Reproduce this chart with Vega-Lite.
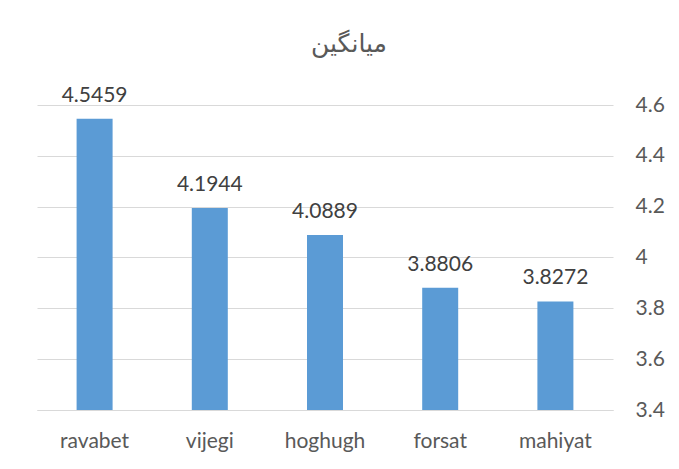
{
  "$schema": "https://vega.github.io/schema/vega-lite/v6.json",
  "autosize": "none",
  "width": 576,
  "height": 305,
  "padding": {"left": 37, "top": 105, "right": 66, "bottom": 59},
  "background": "white",
  "title": {
    "text": "میانگین",
    "fontSize": 25,
    "font": "DejaVu Sans",
    "fontWeight": "normal",
    "color": "#595959",
    "anchor": "middle",
    "dx": 24,
    "offset": 28
  },
  "data": {
    "values": [
      {"category": "ravabet", "value": 4.5459},
      {"category": "vijegi", "value": 4.1944},
      {"category": "hoghugh", "value": 4.0889},
      {"category": "forsat", "value": 3.8806},
      {"category": "mahiyat", "value": 3.8272}
    ]
  },
  "encoding": {
    "x": {
      "field": "category",
      "type": "nominal",
      "sort": null,
      "scale": {"paddingInner": 0.6875, "paddingOuter": 0.34375},
      "axis": {
        "title": null,
        "labelAngle": 0,
        "ticks": false,
        "domain": true,
        "domainColor": "#d9d9d9",
        "labelFont": "Lato",
        "labelFontSize": 21,
        "labelColor": "#595959",
        "labelPadding": 20
      }
    },
    "y": {
      "field": "value",
      "type": "quantitative",
      "scale": {"domain": [3.4, 4.6], "zero": false, "nice": false},
      "axis": {
        "orient": "right",
        "title": null,
        "values": [3.4, 3.6, 3.8, 4, 4.2, 4.4, 4.6],
        "format": "~g",
        "domain": false,
        "ticks": false,
        "grid": true,
        "gridColor": "#d9d9d9",
        "labelFont": "Lato",
        "labelFontSize": 21,
        "labelColor": "#595959",
        "labelPadding": 22
      }
    }
  },
  "layer": [
    {
      "mark": {"type": "bar", "color": "#5B9BD5"},
      "encoding": {"y2": {"datum": 3.4}}
    },
    {
      "mark": {"type": "text", "baseline": "alphabetic", "dy": -17, "font": "Lato", "fontSize": 21, "color": "#404040"},
      "encoding": {"text": {"field": "value", "type": "quantitative", "format": ".4f"}}
    }
  ],
  "config": {"view": {"stroke": null}}
}
